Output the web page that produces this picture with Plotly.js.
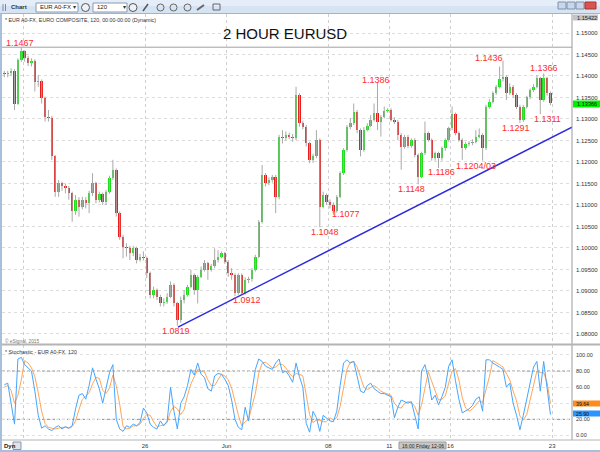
<!DOCTYPE html>
<html><head><meta charset="utf-8">
<script src="https://cdn.plot.ly/plotly-3.0.1.min.js"></script>
<style>html,body{margin:0;padding:0;background:#fff}#chart{width:600px;height:452px}</style>
</head><body><div id="chart"></div>
<script>
// ---------------- DATA (4-hour view of the 2-hour EURUSD chart, 15 May - 22 Jun 2015) ----------------
const openP = [1.1406,1.1404,1.1406,1.1412,1.1336,1.1437,1.1457,1.1441,1.1431,1.1436,
1.1387,1.1389,1.1348,1.1305,1.1302,1.1213,1.1131,1.1150,1.1143,1.1139,
1.1127,1.1085,1.1112,1.1096,1.1112,1.1104,1.1127,1.1150,1.1112,1.1126,
1.1106,1.1131,1.1162,1.1182,1.1081,1.1026,1.1003,1.0999,1.0988,1.0999,
1.0972,1.0980,1.0976,1.0941,1.0891,1.0902,1.0887,1.0871,1.0875,1.0887,
1.0914,1.0871,1.0833,1.0879,1.0891,1.0910,1.0937,1.0902,1.0933,1.0949,
1.0964,1.0949,1.0957,1.0972,1.0980,1.0988,1.0968,1.0941,1.0937,1.0895,
1.0937,1.0895,1.0926,1.0927,1.0949,1.0980,1.1061,1.1170,1.1150,1.1158,
1.1166,1.1119,1.1259,1.1255,1.1263,1.1259,1.1255,1.1356,1.1290,1.1282,
1.1243,1.1205,1.1213,1.1251,1.1096,1.1123,1.1108,1.1100,1.1087,1.1119,
1.1174,1.1228,1.1281,1.1290,1.1317,1.1274,1.1228,1.1274,1.1284,1.1298,
1.1313,1.1294,1.1305,1.1319,1.1321,1.1298,1.1294,1.1263,1.1236,1.1259,
1.1237,1.1251,1.1216,1.1166,1.1220,1.1267,1.1251,1.1209,1.1220,1.1209,
1.1232,1.1251,1.1278,1.1312,1.1267,1.1251,1.1232,1.1242,1.1243,1.1247,
1.1259,1.1263,1.1232,1.1329,1.1340,1.1360,1.1375,1.1392,1.1398,1.1360,
1.1375,1.1356,1.1329,1.1298,1.1329,1.1350,1.1367,1.1375,1.1395,1.1344,
1.1395,1.1360];
const highP = [1.1412,1.1412,1.1418,1.1416,1.1441,1.1467,1.1460,1.1447,1.1441,1.1439,
1.1402,1.1392,1.1352,1.1321,1.1307,1.1216,1.1158,1.1154,1.1150,1.1144,
1.1131,1.1123,1.1118,1.1119,1.1118,1.1133,1.1174,1.1154,1.1131,1.1129,
1.1135,1.1168,1.1205,1.1185,1.1085,1.1030,1.1011,1.1005,1.1005,1.1003,
1.0986,1.0992,1.0980,1.0945,1.0910,1.0906,1.0891,1.0883,1.0895,1.0922,
1.0918,1.0875,1.0887,1.0902,1.0914,1.0949,1.0941,1.0937,1.0957,1.0972,
1.0968,1.0963,1.0999,1.0995,1.0992,1.0991,1.0972,1.0953,1.0941,1.0941,
1.0941,1.0932,1.0933,1.0953,1.0984,1.1065,1.1193,1.1174,1.1164,1.1170,
1.1170,1.1263,1.1274,1.1271,1.1268,1.1265,1.1375,1.1360,1.1296,1.1286,
1.1247,1.1219,1.1274,1.1255,1.1131,1.1127,1.1113,1.1106,1.1123,1.1178,
1.1232,1.1286,1.1302,1.1336,1.1321,1.1278,1.1281,1.1290,1.1309,1.1336,
1.1386,1.1309,1.1329,1.1325,1.1325,1.1304,1.1298,1.1267,1.1263,1.1263,
1.1255,1.1255,1.1220,1.1224,1.1294,1.1271,1.1255,1.1224,1.1224,1.1236,
1.1255,1.1282,1.1329,1.1315,1.1271,1.1255,1.1247,1.1249,1.1253,1.1274,
1.1278,1.1267,1.1333,1.1346,1.1364,1.1379,1.1422,1.1436,1.1402,1.1383,
1.1379,1.1360,1.1333,1.1333,1.1354,1.1371,1.1381,1.1402,1.1398,1.1406,
1.1398,1.1364];
const lowP = [1.1397,1.1397,1.1400,1.1321,1.1333,1.1433,1.1433,1.1423,1.1422,1.1364,
1.1375,1.1336,1.1294,1.1294,1.1205,1.1119,1.1119,1.1133,1.1127,1.1112,
1.1061,1.1077,1.1073,1.1090,1.1092,1.1081,1.1121,1.1104,1.1106,1.1100,
1.1100,1.1126,1.1158,1.1073,1.1019,1.0976,1.0980,1.0972,1.0981,1.0964,
1.0968,1.0971,1.0930,1.0883,1.0883,1.0879,1.0864,1.0864,1.0870,1.0883,
1.0864,1.0819,1.0826,1.0871,1.0887,1.0906,1.0891,1.0871,1.0930,1.0945,
1.0926,1.0945,1.0953,1.0966,1.0976,1.0963,1.0933,1.0926,1.0888,1.0891,
1.0891,1.0891,1.0918,1.0922,1.0945,1.0976,1.1057,1.1143,1.1146,1.1152,
1.1081,1.1113,1.1243,1.1250,1.1253,1.1247,1.1251,1.1282,1.1276,1.1236,
1.1197,1.1198,1.1209,1.1048,1.1092,1.1100,1.1092,1.1077,1.1082,1.1116,
1.1170,1.1224,1.1276,1.1286,1.1267,1.1213,1.1224,1.1271,1.1281,1.1294,
1.1274,1.1259,1.1301,1.1315,1.1294,1.1288,1.1251,1.1182,1.1231,1.1232,
1.1233,1.1211,1.1148,1.1162,1.1216,1.1247,1.1203,1.1203,1.1186,1.1203,
1.1226,1.1247,1.1274,1.1262,1.1247,1.1205,1.1228,1.1237,1.1239,1.1243,
1.1255,1.1203,1.1228,1.1324,1.1336,1.1356,1.1371,1.1387,1.1344,1.1356,
1.1350,1.1323,1.1291,1.1293,1.1324,1.1346,1.1363,1.1371,1.1311,1.1340,
1.1354,1.1332];
const closeP = [1.1404,1.1406,1.1412,1.1336,1.1437,1.1457,1.1441,1.1431,1.1436,1.1387,
1.1389,1.1348,1.1305,1.1302,1.1213,1.1131,1.1150,1.1143,1.1139,1.1127,
1.1085,1.1112,1.1096,1.1112,1.1104,1.1127,1.1150,1.1112,1.1126,1.1106,
1.1131,1.1162,1.1182,1.1081,1.1026,1.1003,1.0999,1.0988,1.0999,1.0972,
1.0980,1.0976,1.0941,1.0891,1.0902,1.0887,1.0871,1.0875,1.0887,1.0914,
1.0871,1.0833,1.0879,1.0891,1.0910,1.0937,1.0902,1.0933,1.0949,1.0964,
1.0949,1.0957,1.0972,1.0980,1.0988,1.0968,1.0941,1.0937,1.0895,1.0937,
1.0895,1.0926,1.0927,1.0949,1.0980,1.1061,1.1170,1.1150,1.1158,1.1166,
1.1119,1.1259,1.1255,1.1263,1.1259,1.1255,1.1356,1.1290,1.1282,1.1243,
1.1205,1.1213,1.1251,1.1096,1.1123,1.1108,1.1100,1.1087,1.1119,1.1174,
1.1228,1.1281,1.1290,1.1317,1.1274,1.1228,1.1274,1.1284,1.1298,1.1313,
1.1294,1.1305,1.1319,1.1321,1.1298,1.1294,1.1263,1.1236,1.1259,1.1237,
1.1251,1.1216,1.1166,1.1220,1.1267,1.1251,1.1209,1.1220,1.1209,1.1232,
1.1251,1.1278,1.1312,1.1267,1.1251,1.1232,1.1242,1.1243,1.1247,1.1259,
1.1263,1.1232,1.1329,1.1340,1.1360,1.1375,1.1392,1.1398,1.1360,1.1375,
1.1356,1.1329,1.1298,1.1329,1.1350,1.1367,1.1375,1.1395,1.1344,1.1395,
1.1360,1.1337];
const stochK = [63,65,40,14,95,97,88,84,80,55,25,9,12,8,6,10,12,8,11,9,
12,33,50,52,45,62,84,70,58,40,58,78,88,20,8,5,12,10,14,12,
16,34,28,14,10,8,18,12,18,60,30,8,40,48,62,82,75,90,76,72,
58,55,74,77,76,70,62,44,20,10,7,35,18,55,82,95,92,86,84,82,
90,95,78,80,74,66,90,73,60,15,4,30,22,5,25,22,18,17,30,62,
90,94,90,92,72,55,53,62,65,58,55,52,52,50,48,22,35,44,42,40,
42,25,8,80,88,70,44,50,38,48,60,86,94,68,45,28,30,33,37,45,
48,30,94,94,90,88,85,82,60,65,40,25,7,25,45,62,85,92,55,92,
60,25.9];
const stochD = [60,62,56,40,50,69,93,90,84,73,53,30,15,10,9,8,9,10,10,9,
11,18,32,45,49,53,64,72,71,56,52,59,75,62,39,11,8,9,12,12,
14,21,26,25,17,11,12,13,16,30,36,33,26,32,50,64,73,82,80,79,
69,62,62,69,76,74,69,59,42,25,12,17,20,36,52,77,90,91,87,84,
85,89,88,84,77,73,77,76,74,49,26,16,19,19,17,17,22,19,22,36,
61,82,91,92,85,73,60,57,60,62,59,55,53,51,50,40,35,34,40,42,
41,36,25,38,59,79,67,55,44,45,49,65,80,83,69,47,34,30,33,38,
43,41,57,73,93,91,88,85,76,69,55,43,24,19,26,44,64,80,78,78,
66,39.64];
// axis ticks / labels
const dayTickBars = [5.5, 41.5, 65.5, 95.5, 113.5, 131.5, 161.5];
const dayTickLabels = ['', '26', 'Jun', '08', '11', '16', '23'];
const priceTicks = [1.08,1.085,1.09,1.095,1.10,1.105,1.11,1.115,1.12,1.125,1.13,1.135,1.14,1.145,1.15];
const stochTicks = [0,20,40,60,80,100];
const stochLevels = [20,80];
// annotated swing points
const swingText = ['1.1467','1.0819','1.0912','1.1048','1.1077','1.1386','1.1148','1.1186','1.1204/03','1.1436','1.1366','1.1291','1.1311'];
const swingBar = [5,51,70,93,97,110,122,128,141,147,159,152,158];
// drawn lines
const trendBar = [51.2, 167.35];
const trendPrice = [1.0816, 1.1281];
const hLineLevel = [1.1467];
const lastPriceLabel = '1.13366';
const topPriceLabel = '1.15422';

// ---------------- STYLE / LAYOUT ----------------
const FONT = 'Liberation Sans, Arial, sans-serif';
const W = 600, H = 452;
const fx = p => p / W, fy = p => 1 - p / H;
const swingDx = [-1.8,-1.3,5,5,12.6,-1.5,-7,3.4,-6.7,-13.5,0,-4,7];
const swingDy = [3.7,-5.7,-14.2,-4.2,0.4,2,-4.7,-4.5,-5.7,3,23,-5.6,-5.2];

const idx = closeP.map((_, i) => i);
const bodyBase = idx.map(i => Math.min(openP[i], closeP[i]));
const bodyLen = idx.map(i => Math.max(Math.abs(closeP[i] - openP[i]), 0.00012));
const bodyCol = idx.map(i => closeP[i] >= openP[i] ? '#1fdc1f' : '#ec1c1c');
const wx = [], wy = [];
idx.forEach(i => { wx.push(i, i, null); wy.push(lowP[i], highP[i], null); });

const traces = [
  {type:'scatter', mode:'lines', x:wx, y:wy, xaxis:'x', yaxis:'y', line:{color:'#a9a9a9', width:1}, hoverinfo:'skip'},
  {type:'bar', x:idx, y:bodyLen, base:bodyBase, xaxis:'x', yaxis:'y', width:0.72, marker:{color:bodyCol, line:{width:0}}, hoverinfo:'skip'},
  {type:'scatter', mode:'lines', x:trendBar, y:trendPrice, xaxis:'x', yaxis:'y', line:{color:'#2b2bdc', width:1.5}, hoverinfo:'skip'},
  {type:'scatter', mode:'lines', x:idx, y:stochD, xaxis:'x', yaxis:'y2', line:{color:'#ffa65a', width:1}, hoverinfo:'skip'},
  {type:'scatter', mode:'lines', x:idx, y:stochK, xaxis:'x', yaxis:'y2', line:{color:'#45a5ff', width:1}, hoverinfo:'skip'}
];

const shapes = [
  // toolbar
  {type:'rect', xref:'paper', yref:'paper', x0:0, x1:1, y0:fy(13), y1:1, fillcolor:'#d6e3f2', line:{width:0}, layer:'above'},
  {type:'rect', xref:'paper', yref:'paper', x0:0, x1:1, y0:fy(6), y1:1, fillcolor:'#e4edf8', line:{width:0}, layer:'above'},
  {type:'line', xref:'paper', yref:'paper', x0:0, x1:1, y0:fy(13.5), y1:fy(13.5), line:{color:'#9fb4cf', width:1}, layer:'above'},
  {type:'rect', xref:'paper', yref:'paper', x0:fx(36), x1:fx(78), y0:fy(12), y1:fy(3), fillcolor:'#ffffff', line:{color:'#8a9bb0', width:1}, layer:'above'},
  {type:'rect', xref:'paper', yref:'paper', x0:fx(93), x1:fx(127), y0:fy(12), y1:fy(3), fillcolor:'#ffffff', line:{color:'#8a9bb0', width:1}, layer:'above'},
  {type:'circle', xref:'paper', yref:'paper', x0:fx(81.5), x1:fx(89.5), y0:fy(11.5), y1:fy(3.5), fillcolor:'#eef2f7', line:{color:'#555', width:1}, layer:'above'},
  {type:'circle', xref:'paper', yref:'paper', x0:fx(129), x1:fx(137), y0:fy(11.5), y1:fy(3.5), fillcolor:'#eef2f7', line:{color:'#555', width:1}, layer:'above'},
  {type:'line', xref:'paper', yref:'paper', x0:fx(143), x1:fx(148), y0:fy(11), y1:fy(4), line:{color:'#555', width:1.5}, layer:'above'},
  {type:'circle', xref:'paper', yref:'paper', x0:fx(157), x1:fx(164), y0:fy(11), y1:fy(4), fillcolor:'rgba(0,0,0,0)', line:{color:'#666', width:1}, layer:'above'},
  {type:'circle', xref:'paper', yref:'paper', x0:fx(170), x1:fx(177), y0:fy(11), y1:fy(4), fillcolor:'rgba(0,0,0,0)', line:{color:'#666', width:1}, layer:'above'},
  {type:'circle', xref:'paper', yref:'paper', x0:fx(184), x1:fx(191), y0:fy(11), y1:fy(4), fillcolor:'rgba(0,0,0,0)', line:{color:'#666', width:1}, layer:'above'},
  {type:'line', xref:'paper', yref:'paper', x0:fx(197), x1:fx(204), y0:fy(10), y1:fy(5), line:{color:'#666', width:2}, layer:'above'},
  {type:'rect', xref:'paper', yref:'paper', x0:fx(213), x1:fx(220), y0:fy(10), y1:fy(4), fillcolor:'rgba(0,0,0,0)', line:{color:'#666', width:1}, layer:'above'},
  {type:'line', xref:'paper', yref:'paper', x0:fx(3), x1:fx(3), y0:fy(11), y1:fy(4), line:{color:'#7a8aa0', width:1}, layer:'above'},
  {type:'line', xref:'paper', yref:'paper', x0:fx(5.5), x1:fx(5.5), y0:fy(11), y1:fy(4), line:{color:'#7a8aa0', width:1}, layer:'above'},
  // window buttons
  {type:'rect', xref:'paper', yref:'paper', x0:fx(558), x1:fx(566), y0:fy(9), y1:fy(2), fillcolor:'#c9d7ea', line:{color:'#7f93ad', width:1}, layer:'above'},
  {type:'rect', xref:'paper', yref:'paper', x0:fx(567), x1:fx(575), y0:fy(9), y1:fy(2), fillcolor:'#c9d7ea', line:{color:'#7f93ad', width:1}, layer:'above'},
  {type:'rect', xref:'paper', yref:'paper', x0:fx(576), x1:fx(584), y0:fy(9), y1:fy(2), fillcolor:'#c9d7ea', line:{color:'#7f93ad', width:1}, layer:'above'},
  {type:'rect', xref:'paper', yref:'paper', x0:fx(585), x1:fx(596), y0:fy(9), y1:fy(2), fillcolor:'#d9534f', line:{color:'#a33', width:1}, layer:'above'},
  // frame + separators
  {type:'rect', xref:'paper', yref:'paper', x0:0, x1:fx(2), y0:0, y1:fy(13.5), fillcolor:'#a8bfdc', line:{width:0}, layer:'above'},
  {type:'rect', xref:'paper', yref:'paper', x0:0, x1:1, y0:0, y1:fy(450), fillcolor:'#a8bfdc', line:{width:0}, layer:'above'},
  {type:'line', xref:'paper', yref:'paper', x0:fx(572), x1:fx(572), y0:fy(440), y1:fy(14), line:{color:'#9a9a9a', width:1}, layer:'above'},
  {type:'line', xref:'paper', yref:'paper', x0:fx(2), x1:1, y0:fy(344.5), y1:fy(344.5), line:{color:'#b4b4b4', width:2}, layer:'above'},
  {type:'line', xref:'paper', yref:'paper', x0:fx(2), x1:1, y0:fy(440), y1:fy(440), line:{color:'#b4b4b4', width:1}, layer:'above'},
  // horizontal level line
  {type:'line', xref:'paper', yref:'y', x0:fx(2), x1:fx(572), y0:hLineLevel[0], y1:hLineLevel[0], line:{color:'#a0a0a0', width:1}, layer:'below'},
  // value boxes on the right scale
  {type:'rect', xref:'paper', yref:'paper', x0:fx(573), x1:fx(600), y0:fy(107.5), y1:fy(100.5), fillcolor:'#00f000', line:{width:0}, layer:'above'},
  {type:'rect', xref:'paper', yref:'paper', x0:fx(573), x1:fx(598), y0:fy(20.5), y1:fy(14.5), fillcolor:'#c4c4c4', line:{width:0}, layer:'above'},
  {type:'rect', xref:'paper', yref:'paper', x0:fx(573), x1:fx(600), y0:fy(406.5), y1:fy(400.5), fillcolor:'#ff8a1e', line:{width:0}, layer:'above'},
  {type:'rect', xref:'paper', yref:'paper', x0:fx(573), x1:fx(600), y0:fy(416.5), y1:fy(410.5), fillcolor:'#2a95ff', line:{width:0}, layer:'above'},
  // crosshair time box + Dyn icon
  {type:'rect', xref:'paper', yref:'paper', x0:fx(399), x1:fx(446), y0:fy(449), y1:fy(442), fillcolor:'#c8c8c8', line:{color:'#999', width:1}, layer:'above'},
  {type:'rect', xref:'paper', yref:'paper', x0:fx(13), x1:fx(21), y0:fy(449.5), y1:fy(442), fillcolor:'#dde4ee', line:{color:'#8a96a8', width:1}, layer:'above'}
];
stochLevels.forEach(v => shapes.push({type:'line', xref:'paper', yref:'y2', x0:fx(2), x1:fx(572), y0:v, y1:v, line:{color:'#8c8c8c', width:1, dash:'3px,2px'}, layer:'below'}));

const ann = [];
const A = (x, y, text, size, color, opts) => ann.push(Object.assign({xref:'paper', yref:'paper', x:fx(x), y:fy(y), text, showarrow:false, font:{family:FONT, size, color}, xanchor:'left', yanchor:'middle'}, opts || {}));
A(9, 7.5, '<b>Chart</b>', 6, '#333');
A(38, 7.5, 'EUR A0-FX', 6, '#222');
A(71, 7.5, '▾', 6, '#333');
A(95, 7.5, '120', 6, '#222');
A(121, 7.5, '▾', 6, '#333');
A(3, 20.5, '* EUR A0-FX, EURO COMPOSITE, 120, 00:00-00:00 (Dynamic)', 5.3, '#333');
A(285, 33.5, '2 HOUR EURUSD', 15, '#111', {xanchor:'center'});
A(3, 340.5, '© eSignal, 2015', 4.8, '#777');
A(3, 351.5, '* Stochastic - EUR A0-FX, 120', 5.3, '#333');
A(2, 446, '<b>Dyn</b>', 6, '#222');
A(422.5, 445.5, '16:00 Friday 12-06', 5, '#222', {xanchor:'center'});
A(575, 104, lastPriceLabel, 5.6, '#111');
A(575, 17.5, topPriceLabel, 5.6, '#222');
A(575, 403.5, stochD[stochD.length-1].toFixed(2), 5.2, '#111', {borderpad:0});
A(575, 413.5, stochK[stochK.length-1].toFixed(2), 5.2, '#111', {borderpad:0});
swingText.forEach((t, k) => ann.push({xref:'x', yref:'y', x:swingBar[k], y:parseFloat(t), text:t, showarrow:false,
  xanchor:'center', yanchor:'middle', xshift:swingDx[k], yshift:swingDy[k], font:{family:FONT, size:9, color:'#ff2b2b'}}));

const layout = {
  width:W, height:H, margin:{l:0, r:0, t:0, b:0}, paper_bgcolor:'#ffffff', plot_bgcolor:'#ffffff',
  showlegend:false, bargap:0, hovermode:false,
  xaxis:{domain:[fx(2), fx(572)], range:[-0.69, 167.35], anchor:'y2', tickmode:'array', tickvals:dayTickBars, ticktext:dayTickLabels,
    showgrid:true, gridcolor:'#cfcfcf', griddash:'3px,3px', gridwidth:1, zeroline:false, showline:false, ticks:'',
    tickfont:{family:FONT, size:6, color:'#333'}, ticklabelstandoff:1},
  yaxis:{domain:[fy(344), fy(14)], range:[1.07766, 1.15442], side:'right', anchor:'x', tickmode:'array', tickvals:priceTicks,
    tickformat:'.5f', showgrid:true, gridcolor:'#dcdcdc', griddash:'3px,3px', zeroline:false, showline:false, ticks:'',
    tickfont:{family:FONT, size:6, color:'#333'}, ticklabelstandoff:3},
  yaxis2:{domain:[fy(440), fy(345)], range:[-5.7, 112.4], side:'right', anchor:'x', tickmode:'array', tickvals:stochTicks,
    tickformat:'.2f', showgrid:true, gridcolor:'#e2e2e2', griddash:'3px,3px', zeroline:false, showline:false, ticks:'',
    tickfont:{family:FONT, size:5.5, color:'#333'}, ticklabelstandoff:3},
  shapes, annotations:ann
};
Plotly.newPlot('chart', traces, layout, {staticPlot:true, displayModeBar:false});
</script></body></html>
